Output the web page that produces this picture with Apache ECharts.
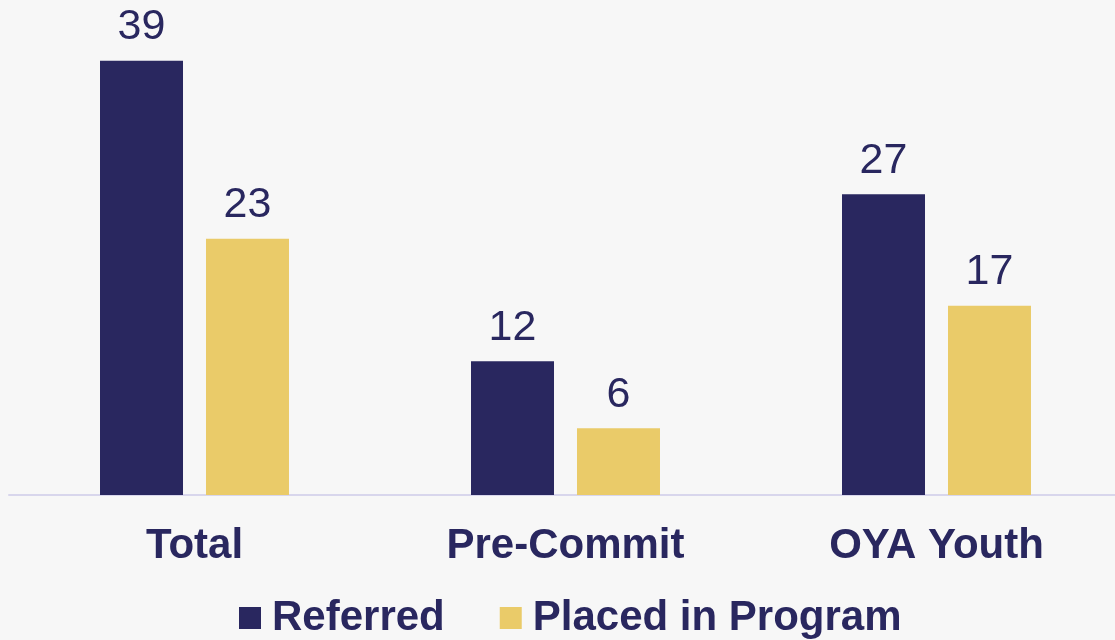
<!DOCTYPE html>
<html lang="en">
<head>
    <meta charset="UTF-8">
    <title>Referred vs Placed in Program</title>
    <script src="https://cdn.jsdelivr.net/npm/echarts@6/dist/echarts.min.js"></script>
    <style>
        html, body { margin: 0; padding: 0; background: #f7f7f7; overflow: hidden; }
    </style>
</head>
<body>
    <!-- a few px wider than the window: the axis runs off the right edge -->
    <div id="main" style="width: 1122px;height:640px;"></div>
    <script type="text/javascript">
        // data
        var categories = ['Total', 'Pre-Commit', 'OYA Youth'];
        var referred = [39, 12, 27];
        var placed = [23, 6, 17];

        var navy = '#29275f';
        var gold = '#eacb69';
        var font = '"Liberation Sans", Arial, sans-serif';

        var myChart = echarts.init(document.getElementById('main'));

        var valueLabel = {
            show: true,
            position: 'top',
            distance: 12,
            color: navy,
            fontFamily: font,
            fontSize: 43
        };

        var option = {
            backgroundColor: '#f7f7f7',
            animation: false,
            grid: {
                left: 9,
                top: 5,
                right: 0,
                height: 490
            },
            legend: {
                left: 234,
                top: 592,
                itemWidth: 22,
                itemHeight: 22,
                itemGap: 55,
                icon: 'rect',
                textStyle: {
                    color: navy,
                    fontFamily: font,
                    fontSize: 42,
                    fontWeight: 'bold',
                    padding: [0, 0, 0, 6]
                },
                data: ['Referred', 'Placed in Program']
            },
            xAxis: {
                type: 'category',
                data: categories,
                axisLine: { lineStyle: { color: '#d8d6ec', width: 2 } },
                axisTick: { show: false },
                axisLabel: {
                    color: navy,
                    fontFamily: font,
                    fontSize: 42,
                    fontWeight: 'bold',
                    margin: 30
                }
            },
            yAxis: {
                type: 'value',
                min: 0,
                max: 44,
                show: false,
                splitLine: { show: false }
            },
            series: [
                {
                    name: 'Referred',
                    type: 'bar',
                    data: referred,
                    barWidth: 83,
                    barGap: '27.7%',
                    itemStyle: { color: navy },
                    label: valueLabel
                },
                {
                    name: 'Placed in Program',
                    type: 'bar',
                    data: placed,
                    barWidth: 83,
                    itemStyle: { color: gold },
                    label: valueLabel
                }
            ]
        };

        myChart.setOption(option);
    </script>
</body>
</html>
